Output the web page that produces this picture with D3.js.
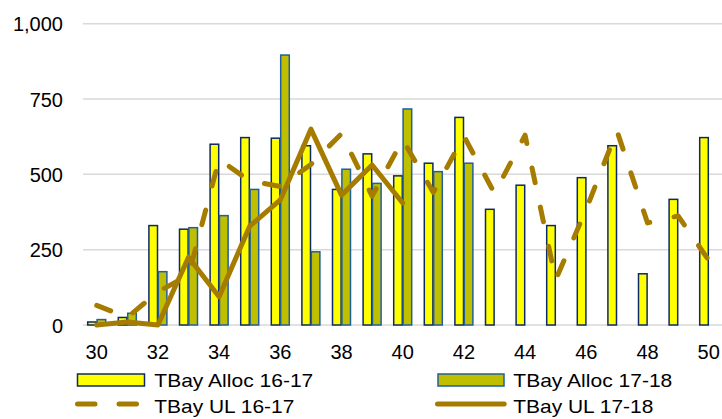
<!DOCTYPE html>
<html><head><meta charset="utf-8">
<script src="https://cdn.jsdelivr.net/npm/d3@7/dist/d3.min.js"></script>
<style>html,body{margin:0;padding:0;background:#fff;overflow:hidden}</style>
</head><body>
<svg id="c" width="722" height="419"></svg>
<script>
const categories = [30,31,32,33,34,35,36,37,38,39,40,41,42,43,44,45,46,47,48,49,50];
const alloc1617 = [10,25,330,318,600,622,620,595,450,568,495,537,689,384,464,330,489,595,170,417,622];
const alloc1718 = [18,39,177,323,363,450,896,243,517,470,717,509,537,null,null,null,null,null,null,null,null];
const ul1617 = [65,25,110,165,550,478,460,533,635,428,615,440,627,437,630,150,385,645,339,362,215];
const ul1718 = [0,10,0,225,94,328,415,650,431,531,405,null,null,null,null,null,null,null,null,null,null];
const yTicks = [0,250,500,750,1000];
const xTickLabels = [30,32,34,36,38,40,42,44,46,48,50];
const seriesNames = ["TBay Alloc 16-17","TBay Alloc 17-18","TBay UL 16-17","TBay UL 17-18"];

const svg = d3.select("#c");
const font = "'Liberation Sans', Arial, sans-serif";
const lineColor = "#A67C00";

const x = d3.scaleBand().domain(categories).range([81.4, 724.0]).padding(0);
const cx = c => x(c) + x.bandwidth()/2;
const y = d3.scaleLinear().domain([0,1000]).range([325, 23.7]);

// gridlines
svg.append("g").selectAll("line").data(yTicks).join("line")
  .attr("x1", 83).attr("x2", 722)
  .attr("y1", d => y(d)).attr("y2", d => y(d))
  .attr("stroke", "#D9D9D9").attr("stroke-width", 1.5);

// y axis labels
const yAxis = d3.axisLeft(y).tickValues(yTicks).tickFormat(d3.format(",")).tickSize(0).tickPadding(0);
const ya = svg.append("g").attr("transform", "translate(63,0)").call(yAxis);
ya.select(".domain").remove();
ya.selectAll("text").attr("font-family", font).attr("font-size", 20).attr("fill", "#000").attr("dy", "0.35em");

// x axis labels
const xAxis = d3.axisBottom(x).tickValues(xTickLabels).tickSize(0).tickPadding(0);
const xa = svg.append("g").attr("transform", "translate(0,345)").call(xAxis);
xa.select(".domain").remove();
xa.selectAll("text").attr("font-family", font).attr("font-size", 20).attr("fill", "#000").attr("dy", "0.72em");

const bw = 8.6;
const bars1 = categories.map((c,i) => ({c, v: alloc1617[i]})).filter(d => d.v != null);
const bars2 = categories.map((c,i) => ({c, v: alloc1718[i]})).filter(d => d.v != null);

svg.append("g").selectAll("rect").data(bars1).join("rect")
  .attr("x", d => cx(d.c) - bw - 0.4).attr("width", bw)
  .attr("y", d => y(d.v)).attr("height", d => y(0) - y(d.v))
  .attr("fill", "#FFFF00").attr("stroke", "#0C2A66").attr("stroke-width", 1.5);

svg.append("g").selectAll("rect").data(bars2).join("rect")
  .attr("x", d => cx(d.c) + 0.4).attr("width", bw)
  .attr("y", d => y(d.v)).attr("height", d => y(0) - y(d.v))
  .attr("fill", "#BFBF00").attr("stroke", "#1F5FA0").attr("stroke-width", 1.5);

const line = d3.line().defined(d => d.v != null).x(d => cx(d.c)).y(d => y(d.v));

svg.append("path").datum(categories.map((c,i) => ({c, v: ul1617[i]})))
  .attr("d", line).attr("fill", "none").attr("stroke", lineColor)
  .attr("stroke-width", 5).attr("stroke-linecap", "round").attr("stroke-linejoin", "round")
  .attr("stroke-dasharray", "15 25");

svg.append("path").datum(categories.map((c,i) => ({c, v: ul1718[i]})))
  .attr("d", line).attr("fill", "none").attr("stroke", lineColor)
  .attr("stroke-width", 5).attr("stroke-linecap", "round").attr("stroke-linejoin", "round");

// legend
const lg = svg.append("g");
function legText(tx, ty, s, len) {
  lg.append("text").attr("x", tx).attr("y", ty).text(s)
    .attr("font-family", font).attr("font-size", 19).attr("fill", "#000")
    .attr("textLength", len).attr("lengthAdjust", "spacingAndGlyphs");
}
lg.append("rect").attr("x", 77.5).attr("y", 374).attr("width", 67).attr("height", 12)
  .attr("fill", "#FFFF00").attr("stroke", "#0C2A66").attr("stroke-width", 1.5);
legText(154.3, 387.3, seriesNames[0], 159);
lg.append("rect").attr("x", 438).attr("y", 374).attr("width", 66).attr("height", 12)
  .attr("fill", "#BFBF00").attr("stroke", "#1F5FA0").attr("stroke-width", 1.5);
legText(513.3, 387.3, seriesNames[1], 159);
lg.append("line").attr("x1", 77.5).attr("x2", 137.5).attr("y1", 404).attr("y2", 404)
  .attr("stroke", lineColor).attr("stroke-width", 5).attr("stroke-linecap", "round")
  .attr("stroke-dasharray", "17.5 24");
legText(154.3, 412.7, seriesNames[2], 140);
lg.append("line").attr("x1", 437.5).attr("x2", 504.2).attr("y1", 404).attr("y2", 404)
  .attr("stroke", lineColor).attr("stroke-width", 5).attr("stroke-linecap", "round");
legText(513.3, 412.7, seriesNames[3], 140);
</script>
</body></html>
